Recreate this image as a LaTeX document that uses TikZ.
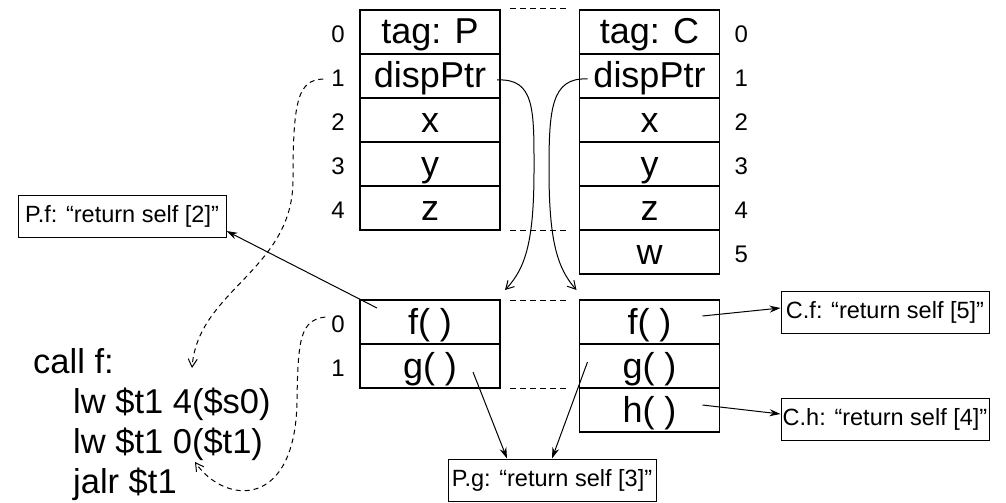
\documentclass[tikz,border=0pt]{standalone}
\usepackage{fontspec}
\setmainfont{Liberation Sans}
\usetikzlibrary{positioning,arrows.meta}

\begin{document}
\begin{tikzpicture}[x=1pt,y=-1pt,
		cellnode/.style={draw,line width=1.2pt,outer sep=0pt,inner sep=0pt,minimum width=140pt,minimum height=44pt,text height=26pt,text depth=2pt,font=\fontsize{36}{36}\selectfont},
		indexnode/.style={inner sep=0pt,yshift=-2pt,font=\fontsize{24}{24}\selectfont},
		labelnode/.style={draw,line width=1pt,inner sep=0pt,minimum width=208pt,minimum height=42pt,font=\fontsize{23.5}{23.5}\selectfont},
		codenode/.style={inner sep=0pt,anchor=base west,font=\fontsize{34.5}{34.5}\selectfont},
		ptrline/.style={line width=1pt,-{Straight Barb[length=8pt,width=9pt]}},
		hopline/.style={line width=1pt,dash pattern=on 5pt off 4pt,-{Straight Barb[length=8pt,width=9pt]}},
		callarrow/.style={line width=1pt,-{Stealth[length=11pt,width=7pt]}},
		gapline/.style={line width=1pt,dash pattern=on 6pt off 4pt}]
			\useasboundingbox (0,0) rectangle (1006,503);

			\node[cellnode]						at (430,32)		(p0)	{tag: P};
			\node[cellnode,below=0pt of p0]					(p1)	{dispPtr};
			\node[cellnode,below=0pt of p1]					(p2)	{x};
			\node[cellnode,below=0pt of p2]					(p3)	{y};
			\node[cellnode,below=0pt of p3]					(p4)	{z};

			\node[cellnode]						at (649.5,32)	(c0)	{tag: C};
			\node[cellnode,below=0pt of c0]					(c1)	{dispPtr};
			\node[cellnode,below=0pt of c1]					(c2)	{x};
			\node[cellnode,below=0pt of c2]					(c3)	{y};
			\node[cellnode,below=0pt of c3]					(c4)	{z};
			\node[cellnode,below=0pt of c4]					(c5)	{w};

			\node[cellnode]						at (430,322)	(pv0)	{f( )};
			\node[cellnode,below=0pt of pv0]				(pv1)	{g( )};

			\node[cellnode]						at (649.5,322)	(cv0)	{f( )};
			\node[cellnode,below=0pt of cv0]				(cv1)	{g( )};
			\node[cellnode,below=0pt of cv1]				(cv2)	{h( )};

			\node[indexnode,left=15pt of p0]				(ip0)	{0};
			\node[indexnode,left=15pt of p1]				(ip1)	{1};
			\node[indexnode,left=15pt of p2]				(ip2)	{2};
			\node[indexnode,left=15pt of p3]				(ip3)	{3};
			\node[indexnode,left=15pt of p4]				(ip4)	{4};

			\node[indexnode,right=15pt of c0]				(ic0)	{0};
			\node[indexnode,right=15pt of c1]				(ic1)	{1};
			\node[indexnode,right=15pt of c2]				(ic2)	{2};
			\node[indexnode,right=15pt of c3]				(ic3)	{3};
			\node[indexnode,right=15pt of c4]				(ic4)	{4};
			\node[indexnode,right=15pt of c5]				(ic5)	{5};

			\node[indexnode,left=15pt of pv0]				(ipv0)	{0};
			\node[indexnode,left=15pt of pv1]				(ipv1)	{1};

			\node[labelnode]					at (122,216)	(pf)	{P.f: “return self [2]”};
			\node[labelnode]					at (552,480)	(pg)	{P.g: “return self [3]”};
			\node[labelnode]					at (885,312)	(cf)	{C.f: “return self [5]”};
			\node[labelnode]					at (885,419)	(ch)	{C.h: “return self [4]”};

			\node[codenode]						at (33,373)		(call)	{call f:};
			\node[codenode]						at (73,413)		(lwa)	{lw \$t1 4(\$s0)};
			\node[codenode]						at (73,453)		(lwb)	{lw \$t1 0(\$t1)};
			\node[codenode]						at (73,493)		(jalr)	{jalr \$t1};

			\coordinate (offa) at (192,368);
			\coordinate (offb) at (195,462);

			\draw[gapline] ([xshift=10pt,yshift=1pt]p0.north east) -- ([xshift=-14pt,yshift=1pt]c0.north west);
			\draw[gapline] ([xshift=10pt]p4.south east) -- ([xshift=-14pt]c4.south west);
			\draw[gapline] ([xshift=10pt]pv0.north east) -- ([xshift=-14pt]cv0.north west);
			\draw[gapline] ([xshift=10pt]pv1.south east) -- ([xshift=-14pt]cv1.south west);

			\draw[ptrline] ([xshift=-3pt,yshift=-4pt]p1.east) .. controls (535,78) and (534,110) .. (534,170) .. controls (534,240) and (526,268) .. ([xshift=5pt,yshift=10pt]pv0.north east);
			\draw[ptrline] ([xshift=8pt,yshift=-3pt]c1.west) .. controls (551,77) and (549,110) .. (549,170) .. controls (549,240) and (557,268) .. ([xshift=-3pt,yshift=10pt]cv0.north west);

			\draw[hopline] ([xshift=-8pt,yshift=-1pt]ip1.west) .. controls (298,80) and (293,100) .. (293,180) .. controls (293,270) and (198,290) .. (offa);
			\draw[hopline] ([xshift=-6pt,yshift=7pt]ipv0.west) .. controls (300,320) and (298,340) .. (297,400) .. controls (296,510) and (225,505) .. (offb);

			\draw[callarrow] ([xshift=-53pt,yshift=14pt]pv0.center) -- ([yshift=-15pt]pf.east);
			\draw[callarrow] ([xshift=43pt,yshift=-6pt]pv1.center) -- ([xshift=-45pt]pg.north);
			\draw[callarrow] ([xshift=-62pt,yshift=4pt]cv1.center) -- (pg.north);
			\draw[callarrow] ([xshift=53pt,yshift=6pt]cv0.center) -- ([yshift=4pt]cf.west);
			\draw[callarrow] ([xshift=53pt,yshift=5pt]cv2.center) -- ([yshift=5pt]ch.west);
		\end{tikzpicture}
\end{document}
